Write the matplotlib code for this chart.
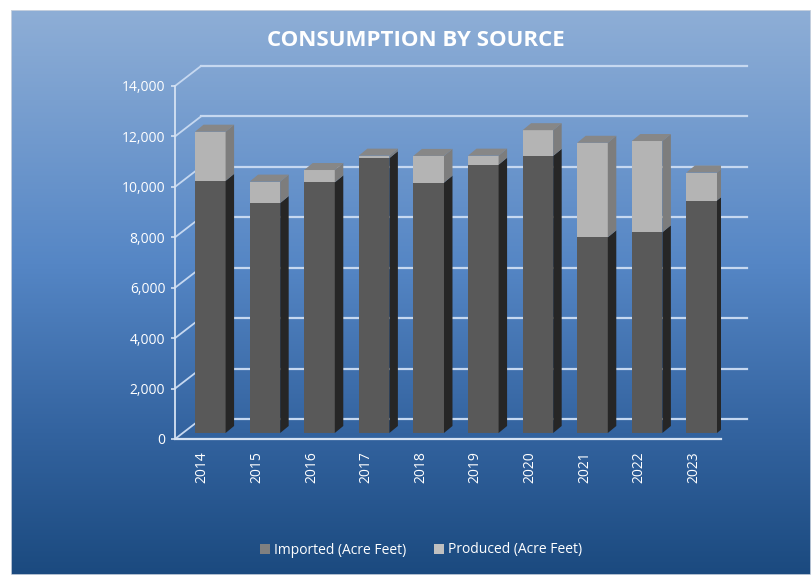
import numpy as np
import matplotlib
matplotlib.use('Agg')
import matplotlib.pyplot as plt
from matplotlib.colors import LinearSegmentedColormap
from matplotlib.patches import Polygon, Rectangle
from matplotlib.ticker import FuncFormatter

years = ['2014', '2015', '2016', '2017', '2018', '2019', '2020', '2021', '2022', '2023']
imported = [10000, 9120, 9940, 10900, 9930, 10640, 10990, 7760, 7960, 9220]
produced = [1950, 850, 490, 100, 1060, 360, 1020, 3750, 3620, 1110]
yticks = [0, 2000, 4000, 6000, 8000, 10000, 12000, 14000]

W, H = 811, 575
fig = plt.figure(figsize=(W / 100, H / 100), dpi=100)
fig.patch.set_facecolor('white')

# fundo com degradê
bg = fig.add_axes([11 / W, 0, 1 - 11 / W, (H - 10) / H])
cmap = LinearSegmentedColormap.from_list('fundo', [(0, '#8eaed6'), (0.45, '#5586c5'),
                                                   (0.75, '#33639f'), (1, '#1b4a7f')])
grad = np.linspace(0, 1, 256).reshape(-1, 1)
bg.imshow(grad, aspect='auto', cmap=cmap, extent=[0, 1, 0, 1], origin='upper')
bg.add_patch(Rectangle((0, 0), 1, 1, fill=False, ec='#cfd6e0', lw=1.2, transform=bg.transAxes))
bg.set_axis_off()

left, right, bottom, top = 175, 721, 439, 86
ax = fig.add_axes([left / W, (H - bottom) / H, (right - left) / W, (bottom - top) / H])
ax.set_facecolor('none')
ax.set_xlim(-0.5, len(years) - 0.5)
ax.set_ylim(0, 14000)
for s in ax.spines.values():
    s.set_visible(False)

# pixels -> unidades dos dados
kx = len(years) / (right - left)
ky = 14000 / (bottom - top)

grid_c = '#c6d8f0'
wx, wy = 26 * kx, 20 * ky   # profundidade da parede
for v in yticks:
    ax.plot([-0.5 + wx, len(years) - 0.5 + wx], [v + wy, v + wy], color=grid_c, lw=1.6, zorder=1, clip_on=False)
    ax.plot([-0.5, -0.5 + wx], [v, v + wy], color=grid_c, lw=1.3, zorder=1, clip_on=False)
ax.plot([-0.5, -0.5], [0, 14000], color='#d5e2f3', lw=1.3, zorder=2, clip_on=False)
ax.plot([-0.5, len(years) - 0.5], [0, 0], color='#d5e2f3', lw=1.6, zorder=2, clip_on=False)

# barras 3D
largura = 0.56
bx, by = 8 * kx, 6 * ky     # deslocamento da face frontal
dx, dy = 8.5 * kx, 7 * ky   # profundidade da barra
x = np.arange(len(years)) + bx
tot = np.array(imported) + np.array(produced)

ax.bar(x, imported, width=largura, bottom=by, color='#595959', zorder=3)
ax.bar(x, produced, width=largura, bottom=by + np.array(imported), color='#b4b4b4', zorder=3)

for i in range(len(years)):
    xr = x[i] + largura / 2
    xl = x[i] - largura / 2
    y1 = by + imported[i]
    y2 = by + tot[i]
    ax.add_patch(Polygon([(xr, by), (xr + dx, by + dy), (xr + dx, y1 + dy), (xr, y1)],
                         closed=True, fc='#262626', ec='none', zorder=3))
    ax.add_patch(Polygon([(xr, y1), (xr + dx, y1 + dy), (xr + dx, y2 + dy), (xr, y2)],
                         closed=True, fc='#7d7d7d', ec='none', zorder=3))
    ax.add_patch(Polygon([(xl, y2), (xl + dx, y2 + dy), (xr + dx, y2 + dy), (xr, y2)],
                         closed=True, fc='#878787', ec='none', zorder=3))

ax.set_yticks(yticks)
ax.yaxis.set_major_formatter(FuncFormatter(lambda v, p: f'{int(v):,}'))
ax.tick_params(axis='y', colors='#d5e2f3', labelcolor='white', labelsize=10, length=3, width=1.2, pad=4)
ax.set_xticks(range(len(years)))
ax.set_xticklabels(years, rotation=90, fontsize=10, color='white')
ax.tick_params(axis='x', length=0, pad=9)
for t in ax.get_yticklabels() + ax.get_xticklabels():
    t.set_fontfamily('Open Sans')

fig.text(416 / W, 1 - 40 / H, 'CONSUMPTION BY SOURCE', ha='center', va='center', color='white',
         fontsize=16, fontweight='bold', family='Open Sans')

h1 = Rectangle((0, 0), 1, 1, fc='#808080', ec='none')
h2 = Rectangle((0, 0), 1, 1, fc='#c0c0c0', ec='none')
leg = fig.legend([h1, h2], ['Imported (Acre Feet)', 'Produced (Acre Feet)'], loc='center',
                 bbox_to_anchor=(421 / W, 1 - 550 / H), ncol=2, frameon=False, handlelength=0.7,
                 handleheight=0.7, handletextpad=0.3, columnspacing=2.0,
                 prop={'family': 'Open Sans', 'size': 10})
for t in leg.get_texts():
    t.set_color('white')

plt.savefig('out.png', dpi=100)
plt.close()
